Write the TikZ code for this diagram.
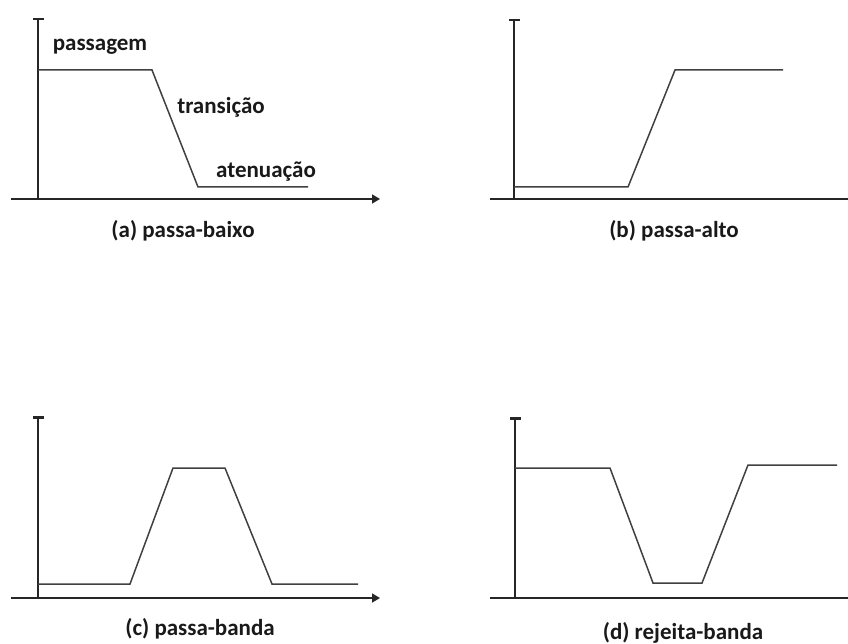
\documentclass[tikz,border=0pt]{standalone}
\usepackage{fontspec}
\setmainfont{Carlito}
\usetikzlibrary{arrows.meta}
\begin{document}
\begin{tikzpicture}[x=1pt,y=-1pt,
  axis/.style={line width=1.6pt,color=black!85},
  xarrow/.style={axis,-{Triangle[length=8pt,width=9pt]}},
  yarrow/.style={axis,-{Rectangle[length=2.5pt,width=11pt]}},
  curve/.style={line width=1.5pt,color=black!75,line join=miter},
  lbl/.style={font=\bfseries\fontsize{23}{26}\selectfont,inner sep=0pt,text=black!90},
  captext/.style={lbl}]
\useasboundingbox (0,0) rectangle (848,644);
% ---------- (a) passa-baixo
\coordinate (a0) at (38,199);
\coordinate (ax) at (380,199);
\coordinate (ay) at (38,18);
\coordinate (axs) at (11,199);
\draw[xarrow] (axs) -- (ax);
\draw[yarrow] (a0) -- (ay);
\coordinate (a1) at (38,70);
\coordinate (a2) at (152,70);
\coordinate (a3) at (198,187);
\coordinate (a4) at (308,187);
\draw[curve] (a1) -- (a2) -- (a3) -- (a4);
\node[lbl] (pas) at (100,47) {passagem};
\node[lbl] (tra) at (221,107) {transição};
\node[lbl] (ate) at (266,172) {atenuação};
\node[captext] (capa) at (183,231) {(a) passa-baixo};
% ---------- (b) passa-alto
\coordinate (b0) at (514,199);
\coordinate (bx) at (856,199);
\coordinate (by) at (514,19);
\coordinate (bxs) at (490,199);
\draw[xarrow] (bxs) -- (bx);
\draw[yarrow] (b0) -- (by);
\coordinate (b1) at (514,187);
\coordinate (b2) at (628,187);
\coordinate (b3) at (675,70);
\coordinate (b4) at (783,70);
\draw[curve] (b1) -- (b2) -- (b3) -- (b4);
\node[captext] (capb) at (674,231) {(b) passa-alto};
% ---------- (c) passa-banda
\coordinate (c0) at (38,598);
\coordinate (cx) at (380,598);
\coordinate (cy) at (38,416);
\coordinate (cxs) at (11,598);
\draw[xarrow] (cxs) -- (cx);
\draw[yarrow] (c0) -- (cy);
\coordinate (c1) at (38,584);
\coordinate (c2) at (130,584);
\coordinate (c3) at (173,468);
\coordinate (c4) at (225,468);
\coordinate (c5) at (272,584);
\coordinate (c6) at (358,584);
\draw[curve] (c1) -- (c2) -- (c3) -- (c4) -- (c5) -- (c6);
\node[captext] (capc) at (200,629) {(c) passa-banda};
% ---------- (d) rejeita-banda
\coordinate (d0) at (515,598);
\coordinate (dx) at (856,598);
\coordinate (dy) at (515,417);
\coordinate (dxs) at (490,598);
\draw[xarrow] (dxs) -- (dx);
\draw[yarrow] (d0) -- (dy);
\coordinate (d1) at (515,468);
\coordinate (d2) at (610,468);
\coordinate (d3) at (653,583);
\coordinate (d4) at (702,583);
\coordinate (d5) at (748,465);
\coordinate (d6) at (837,465);
\draw[curve] (d1) -- (d2) -- (d3) -- (d4) -- (d5) -- (d6);
\node[captext] (capd) at (683,633) {(d) rejeita-banda};
\end{tikzpicture}
\end{document}
